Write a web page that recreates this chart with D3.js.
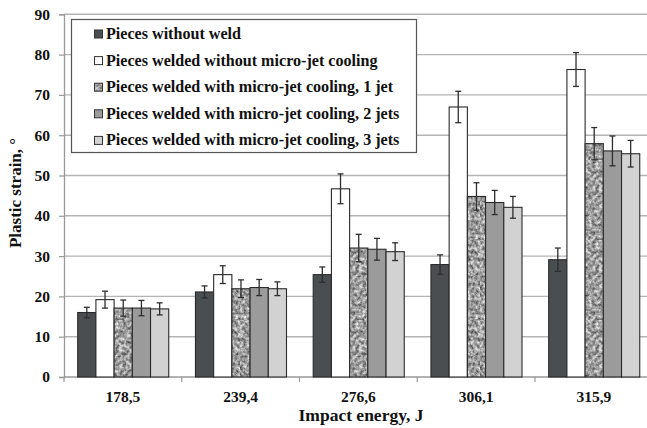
<!DOCTYPE html>
<html><head><meta charset="utf-8">
<script src="https://cdn.jsdelivr.net/npm/d3@7"></script>
<style>
html,body{margin:0;padding:0;background:#fff;}
svg{display:block;}
svg text{font-family:"Liberation Serif","Times New Roman","DejaVu Serif",serif !important;font-weight:bold;fill:#111;}
</style></head>
<body>
<svg id="chart" width="647" height="428"></svg>
<script>
const categories = ["178,5", "239,4", "276,6", "306,1", "315,9"];
const seriesNames = [
  "Pieces without weld",
  "Pieces welded without micro-jet cooling",
  "Pieces welded with micro-jet cooling, 1 jet",
  "Pieces welded with micro-jet cooling, 2 jets",
  "Pieces welded with micro-jet cooling, 3 jets"
];
const noWeld      = [16.0, 21.1, 25.4, 27.9, 29.1];
const noWeldErr   = [1.3, 1.5, 1.9, 2.4, 2.9];
const noCooling   = [19.2, 25.4, 46.7, 67.0, 76.3];
const noCoolingErr= [2.1, 2.2, 3.7, 3.9, 4.2];
const jet1        = [17.1, 21.9, 32.0, 44.8, 57.9];
const jet1Err     = [2.0, 2.2, 3.4, 3.4, 4.0];
const jet2        = [17.1, 22.2, 31.7, 43.3, 56.1];
const jet2Err     = [1.9, 2.0, 2.7, 3.0, 3.7];
const jet3        = [16.9, 21.9, 31.1, 42.1, 55.4];
const jet3Err     = [1.5, 1.7, 2.2, 2.7, 3.3];
const yTicks      = [0, 10, 20, 30, 40, 50, 60, 70, 80, 90];
const yTitle = "Plastic strain, °";
const xTitle = "Impact energy, J";

const values = [noWeld, noCooling, jet1, jet2, jet3];
const errors = [noWeldErr, noCoolingErr, jet1Err, jet2Err, jet3Err];
const fills = ["#4b4e50", "#ffffff", "url(#speckle)", "#9b9b9b", "#d2d2d2"];
const FONT = '"Liberation Serif","Times New Roman","DejaVu Serif",serif';

const svg = d3.select("#chart");
const defs = svg.append("defs");
// speckled texture
const pat = defs.append("pattern").attr("id", "speckle").attr("patternUnits", "userSpaceOnUse")
  .attr("width", 80).attr("height", 80);
const flt = defs.append("filter").attr("id", "noise").attr("x", 0).attr("y", 0)
  .attr("width", "100%").attr("height", "100%").attr("color-interpolation-filters", "sRGB");
flt.append("feTurbulence").attr("type", "fractalNoise").attr("baseFrequency", 0.28).attr("numOctaves", 3).attr("seed", 7).attr("result", "n");
flt.append("feColorMatrix").attr("in", "n").attr("type", "matrix")
  .attr("values", "1.0 0 0 0 0.12  1.0 0 0 0 0.12  1.0 0 0 0 0.12  0 0 0 0 1");
pat.append("rect").attr("width", 80).attr("height", 80).attr("fill", "#999");
pat.append("rect").attr("width", 80).attr("height", 80).attr("filter", "url(#noise)");

const left = 64, band = 117.75;
const x0 = d3.scaleBand().domain(categories).range([left, left + band * categories.length]).padding(0);
const x1 = d3.scaleBand().domain(d3.range(seriesNames.length)).range([13.7, band - 13.0]).padding(0);
const y = d3.scaleLinear().domain([0, 90]).range([377, 14.3]);

// gridlines
svg.append("g").selectAll("line").data(yTicks.filter(t => t > 0)).join("line")
  .attr("x1", left).attr("x2", 647).attr("y1", d => y(d)).attr("y2", d => y(d))
  .attr("stroke", "#b4b4b4").attr("stroke-width", 1.4);

// y axis
const yAxis = svg.append("g").attr("transform", `translate(${left},0)`)
  .call(d3.axisLeft(y).tickValues(yTicks).tickSize(5).tickPadding(9));
yAxis.attr("font-family", null).attr("font-size", null);
yAxis.select(".domain").attr("stroke", "#999").attr("stroke-width", 1.3);
yAxis.selectAll(".tick line").attr("stroke", "#999").attr("stroke-width", 1.2);
yAxis.selectAll(".tick text").attr("font-family", FONT).attr("font-weight", "bold")
  .attr("font-size", 15.5).attr("fill", "#111");

// x axis
svg.append("line").attr("x1", left).attr("x2", 647).attr("y1", y(0)).attr("y2", y(0))
  .attr("stroke", "#999").attr("stroke-width", 1.3);
svg.append("g").selectAll("line").data(categories).join("line")
  .attr("x1", d => x0(d)).attr("x2", d => x0(d)).attr("y1", y(0)).attr("y2", y(0) + 5)
  .attr("stroke", "#999").attr("stroke-width", 1.2);
svg.append("g").selectAll("text").data(categories).join("text")
  .attr("x", d => x0(d) + x0.bandwidth() / 2).attr("y", 401.5)
  .attr("text-anchor", "middle").attr("font-family", FONT).attr("font-size", 15.5).text(d => d);

// bars
const gBars = svg.append("g");
values.forEach((vals, s) => {
  gBars.append("g").selectAll("rect").data(vals).join("rect")
    .attr("x", (d, i) => x0(categories[i]) + x1(s))
    .attr("y", d => y(d))
    .attr("width", x1.bandwidth())
    .attr("height", d => y(0) - y(d))
    .attr("fill", fills[s])
    .attr("stroke", "#2a2a2a").attr("stroke-width", 1.1);
});
// error bars
const gErr = svg.append("g").attr("stroke", "#2e2e2e").attr("stroke-width", 1.3);
values.forEach((vals, s) => {
  vals.forEach((v, i) => {
    const cx = x0(categories[i]) + x1(s) + x1.bandwidth() / 2;
    const e = errors[s][i];
    gErr.append("line").attr("x1", cx).attr("x2", cx).attr("y1", y(v + e)).attr("y2", y(v - e));
    gErr.append("line").attr("x1", cx - 3).attr("x2", cx + 3).attr("y1", y(v + e)).attr("y2", y(v + e));
    gErr.append("line").attr("x1", cx - 3).attr("x2", cx + 3).attr("y1", y(v - e)).attr("y2", y(v - e));
  });
});

// legend
const lg = svg.append("g");
lg.append("rect").attr("x", 71.5).attr("y", 19.5).attr("width", 345).attr("height", 133)
  .attr("fill", "#fff").attr("stroke", "#555").attr("stroke-width", 1.2);
seriesNames.forEach((name, s) => {
  const cy = 34 + s * 26.6;
  lg.append("rect").attr("x", 94.5).attr("y", cy - 4).attr("width", 8).attr("height", 8)
    .attr("fill", fills[s]).attr("stroke", "#333").attr("stroke-width", 1);
  lg.append("text").attr("x", 106).attr("y", cy + 5).attr("font-family", FONT)
    .attr("font-size", 16.1).text(name);
});

// axis titles
svg.append("text").attr("transform", "translate(21,193) rotate(-90)").attr("text-anchor", "middle")
  .attr("font-family", FONT).attr("font-size", 17).text(yTitle);
svg.append("text").attr("x", 361).attr("y", 421).attr("text-anchor", "middle")
  .attr("font-family", FONT).attr("font-size", 17.5).text(xTitle);
</script>
</body></html>
